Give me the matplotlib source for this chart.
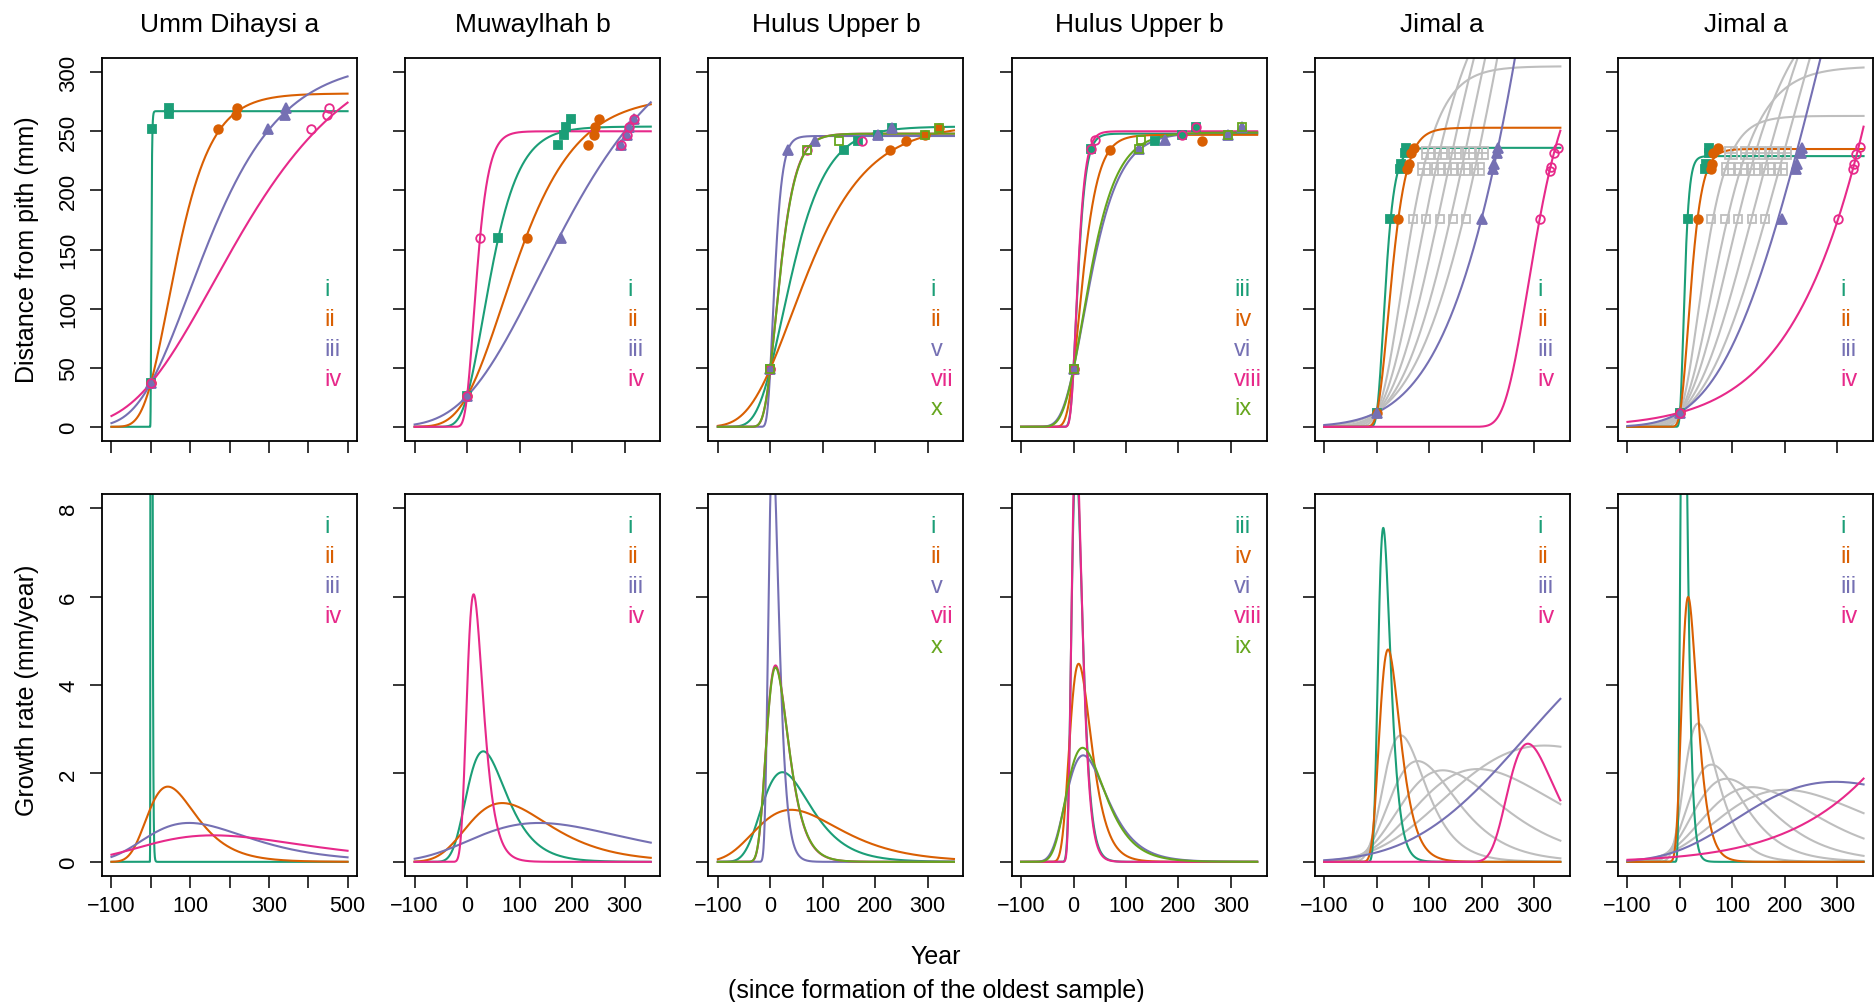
import numpy as np
import matplotlib
matplotlib.use('Agg')
import matplotlib.pyplot as plt

plt.rcParams['font.family'] = ['Liberation Sans', 'DejaVu Sans']

TEAL = '#1B9E77'
ORANGE = '#D95F02'
PURPLE = '#7570B3'
PINK = '#E7298A'
LIME = '#66A61E'
GREY = '#BEBEBE'

titles = ['Umm Dihaysi a', 'Muwaylhah b', 'Hulus Upper b', 'Hulus Upper b', 'Jimal a', 'Jimal a']
x_end = [500, 350, 350, 350, 350, 350]

# gompertz fits: asymptote, inflection year, rate constant
p1_labels = ['i', 'ii', 'iii', 'iv']
p1_colors = [TEAL, ORANGE, PURPLE, PINK]
p1_asym = [267, 282, 310, 330]
p1_mid = [0.85, 43.3, 97.7, 158.5]
p1_k = [0.8, 0.0164, 0.00772, 0.00494]
p1_px = [[0, 3, 47, 47], [0, 172, 216, 218], [0, 297, 341, 343], [0, 407, 447, 452]]
p1_py = [[37, 252, 265, 270], [37, 252, 264, 270], [37, 252, 264, 270], [37, 252, 264, 270]]

p2_labels = ['i', 'ii', 'iii', 'iv']
p2_colors = [TEAL, ORANGE, PURPLE, PINK]
p2_asym = [254, 280, 345, 250]
p2_mid = [30.8, 67, 137, 12.4]
p2_k = [0.02675, 0.01291, 0.00693, 0.0658]
p2_px = [[0, 59, 174, 185, 189, 198], [0, 115, 230, 241, 244, 252],
         [0, 179, 293, 305, 308, 318], [0, 24, 293, 305, 308, 318]]
p2_py = [[26, 160, 238, 247, 254, 260]] * 4

p3_labels = ['i', 'ii', 'v', 'vii', 'x']
p3_colors = [TEAL, ORANGE, PURPLE, PINK, LIME]
p3_asym = [254, 256, 246, 248, 248]
p3_mid = [23, 40, 4.6, 9.9, 10]
p3_k = [0.0217, 0.0125, 0.104, 0.0487, 0.0482]
p3_px = [[0, 140, 168, 205, 232], [0, 229, 259, 295, 321], [0, 34, 85, 205, 232],
         [0, 69, 174], [0, 69, 130, 295, 321]]
p3_py = [[49, 234, 242, 247, 253], [49, 234, 242, 247, 253], [49, 234, 242, 247, 253],
         [49, 234, 242], [49, 234, 242, 247, 253]]

p4_labels = ['iii', 'iv', 'vi', 'viii', 'ix']
p4_colors = [TEAL, ORANGE, PURPLE, PINK, LIME]
p4_asym = [248, 247, 249, 250, 249]
p4_mid = [4.8, 9.76, 18.5, 4.65, 17.3]
p4_k = [0.1, 0.0493, 0.0263, 0.105, 0.02816]
p4_px = [[0, 34, 155, 206, 233], [0, 69, 245], [0, 124, 175, 295, 322],
         [0, 34, 40, 206, 233], [0, 124, 129, 295, 322]]
p4_py = [[49, 235, 242, 247, 254], [49, 234, 242], [49, 235, 243, 247, 254],
         [49, 235, 243, 247, 254], [49, 235, 243, 247, 254]]

p5_labels = ['i', 'ii', 'iii', 'iv']
p5_colors = [TEAL, ORANGE, PURPLE, PINK]
p5_asym = [236, 253, 5000, 320]
p5_mid = [12.5, 21.6, 610, 288]
p5_k = [0.087, 0.0516, 0.002945, 0.0227]
p5_px = [[0, 26, 45, 47, 53, 56], [0, 41, 58, 61, 66, 72],
         [0, 200, 222, 224, 229, 231], [311, 331, 332, 337, 345]]
p5_py = [[12, 176, 218, 222, 232, 236], [12, 176, 218, 222, 232, 236],
         [12, 176, 218, 222, 232, 236], [176, 216, 220, 232, 236]]
p5_grey_asym = [305, 388, 532, 770, 1470]
p5_grey_mid = [46, 78, 126, 193, 320]
p5_grey_k = [0.0255, 0.01597, 0.01058, 0.00741, 0.004864]
p5_grey_x = [[69, 94, 120, 145, 171], [91, 116, 142, 167, 193], [98, 123, 150, 176, 201]]
p5_grey_y = [176, 218, 232]

p6_labels = ['i', 'ii', 'iii', 'iv']
p6_colors = [TEAL, ORANGE, PURPLE, PINK]
p6_asym = [229, 235, 985, 1e6]
p6_mid = [6.5, 15.7, 296, 2709]
p6_k = [0.1666, 0.0693, 0.004995, 0.000896]
p6_px = [[0, 15.6, 47.5, 50, 55, 56], [0, 33.6, 60, 62, 64, 73],
         [0, 194, 221, 223, 230, 232], [0, 302, 330, 331, 335, 343]]
p6_py = [[12, 176, 218, 222, 232, 236], [12, 176, 218, 222, 232, 236],
         [12, 176, 218, 222, 232, 236], [12, 176, 218, 222, 231, 237]]
p6_grey_asym = [263, 305, 370, 482, 640]
p6_grey_mid = [34.8, 60, 89, 137, 200]
p6_grey_k = [0.03235, 0.0196, 0.01381, 0.00953, 0.00692]
p6_grey_x = [[60, 86, 111, 137, 162], [92, 116, 142, 167, 192], [98, 127, 151, 176, 200]]
p6_grey_y = [176, 218, 232]

dist_ticks = [0, 50, 100, 150, 200, 250, 300]
rate_ticks = [0, 2, 4, 6, 8]
year_ticks_wide = [-100, 0, 100, 200, 300, 400, 500]
year_labels_wide = ['\u2212100', '', '100', '', '300', '', '500']
year_ticks = [-100, 0, 100, 200, 300]
year_labels = ['\u2212100', '0', '100', '200', '300']

panels = [
    (p1_labels, p1_colors, p1_asym, p1_mid, p1_k, p1_px, p1_py, None),
    (p2_labels, p2_colors, p2_asym, p2_mid, p2_k, p2_px, p2_py, None),
    (p3_labels, p3_colors, p3_asym, p3_mid, p3_k, p3_px, p3_py, None),
    (p4_labels, p4_colors, p4_asym, p4_mid, p4_k, p4_px, p4_py, None),
    (p5_labels, p5_colors, p5_asym, p5_mid, p5_k, p5_px, p5_py,
     (p5_grey_asym, p5_grey_mid, p5_grey_k, p5_grey_x, p5_grey_y)),
    (p6_labels, p6_colors, p6_asym, p6_mid, p6_k, p6_px, p6_py,
     (p6_grey_asym, p6_grey_mid, p6_grey_k, p6_grey_x, p6_grey_y)),
]

# filled square, filled circle, filled triangle, open circle, open square
MARKERS = [('s', True, 5.5), ('o', True, 6.2), ('^', True, 6.5), ('o', False, 6.2), ('s', False, 5.8)]


def gompertz(x, a, m, k):
    return a * np.exp(-np.exp(-k * (x - m)))


def gompertz_rate(x, a, m, k):
    return k * gompertz(x, a, m, k) * np.exp(-k * (x - m))


def style_axes(ax):
    for s in ax.spines.values():
        s.set_linewidth(1.3)
    ax.tick_params(direction='out', length=8.5, width=1.1, labelsize=15.5, pad=5)


fig = plt.figure(figsize=(18.75, 10.03), dpi=100)
W, H = 1875.0, 1003.0

for c in range(6):
    labels, colors, asym, mid, kk, px, py, grey = panels[c]
    left = (102 + 303.2 * c) / W
    ax1 = fig.add_axes([left, 1 - 442 / H, 255 / W, 383 / H])
    ax2 = fig.add_axes([left, 1 - 877 / H, 255 / W, 382 / H])
    x = np.linspace(-100, x_end[c], 4000)

    if grey is not None:
        ga, gm, gk, gx, gy = grey
        for a, m, k in zip(ga, gm, gk):
            ax1.plot(x, gompertz(x, a, m, k), color=GREY, lw=1.5)
            ax2.plot(x, gompertz_rate(x, a, m, k), color=GREY, lw=1.5)

    for i in range(len(labels)):
        ax1.plot(x, gompertz(x, asym[i], mid[i], kk[i]), color=colors[i], lw=1.5)
        ax2.plot(x, gompertz_rate(x, asym[i], mid[i], kk[i]), color=colors[i], lw=1.5)

    if grey is not None:
        ga, gm, gk, gx, gy = grey
        for row, yv in enumerate(gy):
            if row == 0:
                ax1.plot(gx[row], [yv] * len(gx[row]), 's', ls='none', mfc='none',
                         mec=GREY, mew=1.3, ms=6)
            else:
                ax1.plot(gx[row], [yv] * len(gx[row]), 's', ls='none', mfc='none',
                         mec=GREY, mew=1.3, ms=8)
                ax1.plot(gx[row], [yv] * len(gx[row]), '+', ls='none',
                         mec=GREY, mew=1.3, ms=8)
        ax1.plot([0], [12], 's', mfc='none', mec=GREY, mew=1.3, ms=6)

    for i in range(len(labels)):
        mk, filled, ms = MARKERS[i]
        ax1.plot(px[i], py[i], mk, ls='none', ms=ms, mec=colors[i],
                 mfc=colors[i] if filled else 'none', mew=1.3)

    for i, lab in enumerate(labels):
        ax1.text(0.872, 0.397 - 0.078 * i, lab, color=colors[i], fontsize=17,
                 transform=ax1.transAxes, ha='left', va='center')
        ax2.text(0.872, 0.916 - 0.0785 * i, lab, color=colors[i], fontsize=17,
                 transform=ax2.transAxes, ha='left', va='center')

    if c == 0:
        xt, xl, xlim = year_ticks_wide, year_labels_wide, (-124, 524)
    else:
        xt, xl, xlim = year_ticks, year_labels, (-118, 368)

    for ax in (ax1, ax2):
        style_axes(ax)
        ax.set_xlim(*xlim)
        ax.set_xticks(xt)
    ax1.set_xticklabels([])
    ax2.set_xticklabels(xl)
    ax1.set_ylim(-12, 312)
    ax1.set_yticks(dist_ticks)
    ax2.set_ylim(-0.32, 8.32)
    ax2.set_yticks(rate_ticks)
    if c == 0:
        ax1.set_yticklabels([str(v) for v in dist_ticks])
        ax2.set_yticklabels([str(v) for v in rate_ticks])
        for ax in (ax1, ax2):
            ax.tick_params(axis='y', pad=8, labelsize=16)
            for t in ax.get_yticklabels():
                t.set_rotation(90)
                t.set_ha('right')
                t.set_va('center')
    else:
        ax1.set_yticklabels([])
        ax2.set_yticklabels([])

    fig.text(left + 127.5 / W, 1 - 25 / H, titles[c], fontsize=19, ha='center', va='center')

fig.text(27 / W, 1 - 250 / H, 'Distance from pith (mm)', fontsize=18, rotation=90,
         ha='center', va='center')
fig.text(27 / W, 1 - 690 / H, 'Growth rate (mm/year)', fontsize=18, rotation=90,
         ha='center', va='center')
fig.text(936 / W, 1 - 957 / H, 'Year', fontsize=18, ha='center', va='center')
fig.text(936 / W, 1 - 991 / H, '(since formation of the oldest sample)', fontsize=18,
         ha='center', va='center')

fig.savefig('out.png', dpi=100)
